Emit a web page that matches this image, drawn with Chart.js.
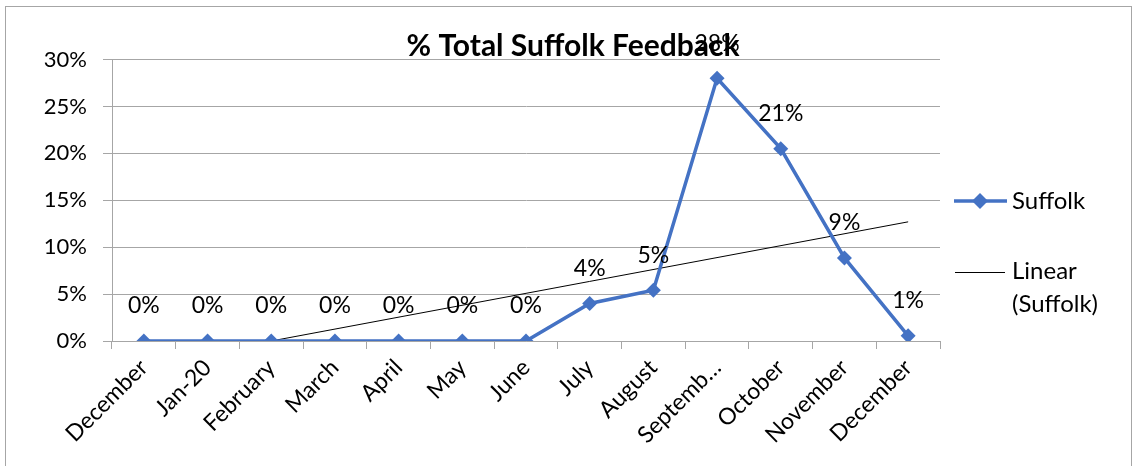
<!DOCTYPE html>
<html lang="en">
  <head>
    <meta charset="UTF-8" />
    <title>% Total Suffolk Feedback</title>
    <script src="https://cdn.jsdelivr.net/npm/chart.js"></script>
    <style>
      html,
      body {
        margin: 0;
        padding: 0;
        background: #ffffff;
      }
      #wrap {
        position: relative;
        width: 1133px;
        height: 466px;
      }
    </style>
  </head>
  <body>
    <div id="wrap">
      <canvas id="feedbackChart" width="1133" height="466"></canvas>
    </div>
    <script>
      const months = [
        "December", "Jan-20", "February", "March", "April", "May", "June",
        "July", "August", "Septemb\u2026", "October", "November", "December",
      ];
      // share of total feedback per month, in percent
      const suffolk = [0, 0, 0, 0, 0, 0, 0, 4.0, 5.4, 28.0, 20.5, 8.85, 0.55];
      // linear trend, shown from where it crosses zero to the last month
      const linearSuffolk = [null, null, 0, null, null, null, null, null, null, null, null, null, 12.7];
      const yTicks = [0, 5, 10, 15, 20, 25, 30];

      const fontFamily = "Lato, 'Open Sans', sans-serif";
      const gridGray = "#a6a6a6";
      const blue = "#4472c4";

      // outer frame around the whole chart
      const framePlugin = {
        id: "frame",
        beforeDraw(chart) {
          const ctx = chart.ctx;
          ctx.save();
          ctx.strokeStyle = "#a6a6a6";
          ctx.lineWidth = 1;
          ctx.strokeRect(5.5, 6.5, 1126, 470);
          ctx.restore();
        },
      };

      // percentage labels above each Suffolk point
      const pointLabels = {
        id: "pointLabels",
        afterDatasetsDraw(chart) {
          const ctx = chart.ctx;
          const meta = chart.getDatasetMeta(0);
          ctx.save();
          ctx.font = "23px " + fontFamily;
          ctx.fillStyle = "#000";
          ctx.textAlign = "center";
          ctx.textBaseline = "middle";
          meta.data.forEach((pt, i) => {
            ctx.fillText(Math.round(suffolk[i]) + "%", pt.x, pt.y - 35);
          });
          ctx.restore();
        },
      };

      // title and right-hand legend
      const titleLegend = {
        id: "titleLegend",
        afterDraw(chart) {
          const ctx = chart.ctx;
          ctx.save();
          ctx.fillStyle = "#000";
          ctx.textBaseline = "middle";
          ctx.textAlign = "center";
          ctx.font = "bold 30px " + fontFamily;
          ctx.fillText("% Total Suffolk Feedback", 573, 46);

          ctx.textAlign = "left";
          ctx.font = "24px " + fontFamily;
          // Suffolk entry
          ctx.strokeStyle = blue;
          ctx.lineWidth = 3.5;
          ctx.beginPath();
          ctx.moveTo(954, 201);
          ctx.lineTo(1007, 201);
          ctx.stroke();
          ctx.fillStyle = blue;
          ctx.beginPath();
          ctx.moveTo(972, 201);
          ctx.lineTo(980, 193);
          ctx.lineTo(988, 201);
          ctx.lineTo(980, 209);
          ctx.closePath();
          ctx.fill();
          ctx.fillStyle = "#000";
          ctx.fillText("Suffolk", 1012, 201);
          // trend entry
          ctx.strokeStyle = "#000";
          ctx.lineWidth = 1;
          ctx.beginPath();
          ctx.moveTo(955, 272.5);
          ctx.lineTo(1005, 272.5);
          ctx.stroke();
          ctx.fillText("Linear", 1012, 271);
          ctx.fillText("(Suffolk)", 1012, 304);
          ctx.restore();
        },
      };

      const ctx = document.getElementById("feedbackChart").getContext("2d");
      new Chart(ctx, {
        type: "line",
        data: {
          labels: months,
          datasets: [
            {
              label: "Suffolk",
              data: suffolk,
              borderColor: blue,
              backgroundColor: blue,
              borderWidth: 3.5,
              pointStyle: "rectRot",
              pointRadius: 7.5,
              pointBorderWidth: 0,
              tension: 0,
            },
            {
              label: "Linear (Suffolk)",
              data: linearSuffolk,
              borderColor: "#000",
              borderWidth: 1,
              pointRadius: 0,
              spanGaps: true,
              tension: 0,
            },
          ],
        },
        options: {
          responsive: false,
          animation: false,
          layout: {
            padding: { left: 5, right: 193, top: 59.5, bottom: 0 },
          },
          plugins: {
            legend: { display: false },
            title: { display: false },
            tooltip: { enabled: false },
          },
          scales: {
            x: {
              offset: true,
              grid: {
                offset: true,
                drawOnChartArea: false,
                color: gridGray,
                tickLength: 8,
              },
              border: { color: gridGray },
              ticks: {
                autoSkip: false,
                maxRotation: 45,
                minRotation: 45,
                padding: 5,
                color: "#000",
                font: { family: fontFamily, size: 23 },
              },
              afterFit(scale) {
                scale.height = 125;
              },
            },
            y: {
              min: 0,
              max: 30,
              afterBuildTicks(scale) {
                scale.ticks = yTicks.map((v) => ({ value: v }));
              },
              grid: { color: gridGray, tickLength: 9 },
              border: { color: gridGray },
              ticks: {
                padding: 16,
                color: "#000",
                font: { family: fontFamily, size: 22 },
                callback: (v) => v + "%",
              },
              afterFit(scale) {
                scale.width = 107;
              },
            },
          },
        },
        plugins: [framePlugin, pointLabels, titleLegend],
      });
    </script>
  </body>
</html>
